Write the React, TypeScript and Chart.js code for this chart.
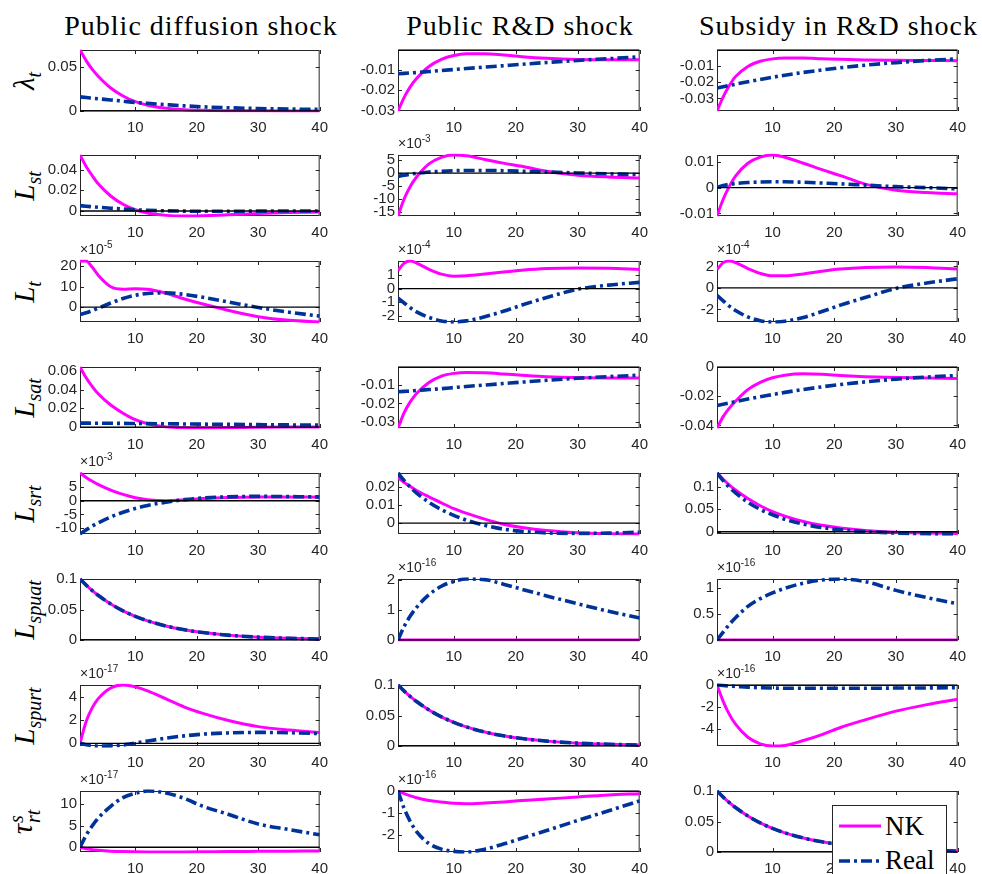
import React, { useEffect, useRef } from "react";
import { Chart, registerables } from "chart.js";
Chart.register(...registerables);

// ---------- data ----------
const X = [1, 2, 3, 4, 6, 8, 10, 12, 15, 18, 21, 25, 30, 35, 40];
const xTicks = [10, 20, 30, 40];
const shockTitles = ["Public diffusion shock", "Public R&D shock", "Subsidy in R&D shock"];
const seriesNames = ["NK", "Real"];

// shared spillover decay path (identical for NK and Real)
const spillover = [0.1, 0.09, 0.081, 0.0729, 0.059, 0.0478, 0.0387, 0.0314, 0.0229, 0.0167, 0.0122, 0.008, 0.0047, 0.0028, 0.0016];
const flatZero = [0, 0, 0, 0, 0, 0, 0, 0, 0, 0, 0, 0, 0, 0, 0];

// Public diffusion shock
const dif_lambda_nk = [0.069, 0.057, 0.047, 0.039, 0.026, 0.017, 0.0105, 0.0065, 0.003, 0.0015, 0.0008, 0.0004, 0.0002, 0.0001, 0.0001];
const dif_lambda_real = [0.016, 0.0152, 0.0145, 0.0138, 0.0125, 0.0111, 0.0097, 0.0087, 0.0072, 0.0058, 0.0047, 0.0037, 0.0028, 0.0022, 0.0018];
const dif_Lst_nk = [0.054, 0.043, 0.034, 0.026, 0.0145, 0.0065, 0.0012, -0.002, -0.0042, -0.0048, -0.0045, -0.0037, -0.0025, -0.0015, -0.0009];
const dif_Lst_real = [0.0052, 0.0046, 0.0041, 0.0036, 0.0027, 0.0019, 0.0012, 0.0007, 0.0002, -0.0001, -0.0002, -0.0002, -0.0001, 0, 0];
const dif_Lt_nk = [22.5, 22.6, 19.5, 15.5, 10, 8.8, 9, 8.7, 6.8, 4, 1.5, -1.5, -4.7, -6.5, -7.3];
const dif_Lt_real = [-3.6, -2.8, -1.7, -0.5, 2, 4.2, 5.8, 6.7, 7, 6.2, 4.8, 2.6, -0.2, -2.5, -4.4];
const dif_Lsat_nk = [0.064, 0.0525, 0.043, 0.0352, 0.0235, 0.0148, 0.0078, 0.0035, 0.0002, -0.0008, -0.001, -0.0007, -0.0003, 0, 0.0001];
const dif_Lsat_real = [0.0042, 0.0042, 0.0041, 0.0041, 0.004, 0.0039, 0.0038, 0.0037, 0.0035, 0.0033, 0.0031, 0.0029, 0.0026, 0.0023, 0.0021];
const dif_Lsrt_nk = [10.1, 8.5, 7.1, 5.9, 3.9, 2.3, 1.1, 0.4, 0, 0.3, 0.8, 1.2, 1.4, 1.4, 1.3];
const dif_Lsrt_real = [-12.1, -10.6, -9.2, -8, -5.9, -4.2, -2.8, -1.7, -0.5, 0.4, 1, 1.4, 1.6, 1.5, 1.4];
const dif_Lspurt_nk = [0, 1.9, 3.1, 3.9, 4.8, 5.06, 4.9, 4.55, 3.85, 3.15, 2.6, 2.0, 1.45, 1.15, 0.95];
const dif_Lspurt_real = [0, -0.12, -0.19, -0.23, -0.22, -0.14, 0.02, 0.2, 0.45, 0.65, 0.8, 0.9, 0.95, 0.92, 0.85];
const dif_tau_nk = [0, -0.35, -0.55, -0.7, -0.9, -1.0, -1.05, -1.08, -1.1, -1.08, -1.05, -1.0, -0.95, -0.9, -0.85];
const dif_tau_real = [0, 2.8, 5, 6.8, 9.5, 11.5, 12.5, 13.05, 12.6, 11.3, 9.5, 7.7, 5.4, 4.1, 2.9];

// Public R&D shock
const rd_lambda_nk = [-0.0303, -0.0235, -0.0182, -0.0142, -0.0082, -0.0046, -0.0027, -0.0019, -0.0019, -0.0025, -0.0033, -0.0041, -0.0047, -0.0049, -0.0048];
const rd_lambda_real = [-0.0118, -0.0116, -0.0114, -0.0112, -0.0107, -0.0102, -0.0097, -0.0092, -0.0085, -0.0078, -0.0071, -0.0062, -0.0052, -0.0043, -0.0034];
const rd_Lst_nk = [-16.4, -9.8, -5, -1.5, 3.5, 6.0, 6.9, 6.6, 5.2, 3.8, 2.6, 0.7, -0.8, -1.5, -1.9];
const rd_Lst_real = [-1.3, -0.8, -0.4, -0.1, 0.4, 0.7, 0.9, 1.0, 1.0, 0.9, 0.7, 0.4, 0.05, -0.3, -0.6];
const rd_Lt_nk = [1.3, 1.85, 2.0, 1.85, 1.4, 1.05, 0.9, 0.92, 1.05, 1.2, 1.33, 1.45, 1.5, 1.47, 1.38];
const rd_Lt_real = [-0.7, -1.05, -1.4, -1.7, -2.1, -2.35, -2.43, -2.35, -2.05, -1.65, -1.2, -0.65, -0.05, 0.25, 0.45];
const rd_Lsat_nk = [-0.0335, -0.025, -0.019, -0.0145, -0.0085, -0.005, -0.0035, -0.003, -0.0032, -0.0038, -0.0045, -0.0053, -0.0058, -0.006, -0.006];
const rd_Lsat_real = [-0.0136, -0.0134, -0.0132, -0.0129, -0.0124, -0.0119, -0.0113, -0.0107, -0.0099, -0.0091, -0.0083, -0.0073, -0.0062, -0.0053, -0.0045];
const rd_Lsrt_nk = [0.025, 0.0225, 0.0202, 0.018, 0.0145, 0.0112, 0.008, 0.0055, 0.0022, -0.0006, -0.0024, -0.0041, -0.0053, -0.0058, -0.006];
const rd_Lsrt_real = [0.0277, 0.0235, 0.0198, 0.0166, 0.0115, 0.0075, 0.0043, 0.0017, -0.0012, -0.0033, -0.0045, -0.0054, -0.0057, -0.0055, -0.005];
const rd_Lspuat_real = [0, 0.45, 0.8, 1.08, 1.5, 1.78, 1.94, 2.02, 2.0, 1.85, 1.68, 1.46, 1.2, 0.95, 0.73];
const rd_tau_nk = [0, -0.12, -0.22, -0.31, -0.43, -0.5, -0.56, -0.58, -0.55, -0.5, -0.43, -0.37, -0.27, -0.18, -0.12];
const rd_tau_real = [0, -0.8, -1.4, -1.85, -2.4, -2.65, -2.75, -2.78, -2.65, -2.42, -2.15, -1.8, -1.34, -0.9, -0.45];

// Subsidy in R&D shock
const sub_lambda_nk = [-0.0378, -0.029, -0.022, -0.0165, -0.0102, -0.007, -0.0055, -0.005, -0.005, -0.0054, -0.0058, -0.0062, -0.0064, -0.0065, -0.0066];
const sub_lambda_real = [-0.0236, -0.0228, -0.022, -0.0212, -0.0197, -0.0183, -0.0169, -0.0156, -0.0139, -0.0124, -0.011, -0.0094, -0.0078, -0.0065, -0.0055];
const sub_Lst_nk = [-0.011, -0.0045, 0.0005, 0.0045, 0.0095, 0.0119, 0.0127, 0.0118, 0.0095, 0.007, 0.0047, 0.0014, -0.001, -0.0019, -0.0024];
const sub_Lst_real = [0.0002, 0.0008, 0.0013, 0.0016, 0.002, 0.0022, 0.0023, 0.0023, 0.0021, 0.0018, 0.0015, 0.001, 0.0004, 0, -0.0005];
const sub_Lt_nk = [1.7, 2.35, 2.5, 2.35, 1.8, 1.35, 1.12, 1.12, 1.3, 1.55, 1.75, 1.9, 1.95, 1.9, 1.75];
const sub_Lt_real = [-0.7, -1.2, -1.7, -2.1, -2.7, -3.05, -3.17, -3.1, -2.75, -2.2, -1.6, -0.9, -0.05, 0.45, 0.85];
const sub_Lsat_nk = [-0.0418, -0.034, -0.0282, -0.0235, -0.0155, -0.0105, -0.0074, -0.0056, -0.0047, -0.005, -0.0058, -0.0066, -0.0072, -0.0075, -0.0078];
const sub_Lsat_real = [-0.0264, -0.0255, -0.0246, -0.0237, -0.022, -0.0204, -0.0189, -0.0174, -0.0154, -0.0136, -0.012, -0.0102, -0.0083, -0.0069, -0.0058];
const sub_Lsrt_nk = [0.131, 0.117, 0.104, 0.093, 0.074, 0.058, 0.045, 0.035, 0.023, 0.0145, 0.0085, 0.003, -0.0012, -0.003, -0.0038];
const sub_Lsrt_real = [0.131, 0.114, 0.099, 0.087, 0.066, 0.05, 0.038, 0.028, 0.017, 0.0095, 0.0045, 0.0005, -0.0028, -0.0045, -0.005];
const sub_Lspuat_real = [0, 0.15, 0.3, 0.43, 0.65, 0.8, 0.91, 1.0, 1.1, 1.16, 1.18, 1.13, 0.96, 0.82, 0.7];
const sub_Lspurt_nk = [0, -1.5, -2.7, -3.6, -4.8, -5.4, -5.6, -5.55, -5.1, -4.55, -3.9, -3.2, -2.4, -1.8, -1.3];
const sub_Lspurt_real = [0, -0.05, -0.1, -0.13, -0.2, -0.25, -0.28, -0.3, -0.3, -0.3, -0.3, -0.3, -0.28, -0.27, -0.25];

// y tick labels per panel (rows x columns)
const yTicksDif = [[0, 0.05], [0, 0.02, 0.04], [0, 10, 20], [0, 0.02, 0.04, 0.06], [-10, -5, 0, 5], [0, 0.05, 0.1], [0, 2, 4], [0, 5, 10]];
const yTicksRd = [[-0.03, -0.02, -0.01], [-15, -10, -5, 0, 5], [-2, -1, 0, 1], [-0.03, -0.02, -0.01], [0, 0.01, 0.02], [0, 1, 2], [0, 0.05, 0.1], [-2, -1, 0]];
const yTicksSub = [[-0.03, -0.02, -0.01], [-0.01, 0, 0.01], [-2, 0, 2], [-0.04, -0.02, 0], [0, 0.05, 0.1], [0, 0.5, 1], [-4, -2, 0], [0, 0.05, 0.1]];
// axis exponent labels ("" = none)
const expDif = ["", "", "-5", "", "-3", "", "-17", "-17"];
const expRd = ["", "-3", "-4", "", "", "-16", "", "-16"];
const expSub = ["", "", "-4", "", "", "-16", "-16", ""];

const nkDif = [dif_lambda_nk, dif_Lst_nk, dif_Lt_nk, dif_Lsat_nk, dif_Lsrt_nk, spillover, dif_Lspurt_nk, dif_tau_nk];
const realDif = [dif_lambda_real, dif_Lst_real, dif_Lt_real, dif_Lsat_real, dif_Lsrt_real, spillover, dif_Lspurt_real, dif_tau_real];
const nkRd = [rd_lambda_nk, rd_Lst_nk, rd_Lt_nk, rd_Lsat_nk, rd_Lsrt_nk, flatZero, spillover, rd_tau_nk];
const realRd = [rd_lambda_real, rd_Lst_real, rd_Lt_real, rd_Lsat_real, rd_Lsrt_real, rd_Lspuat_real, spillover, rd_tau_real];
const nkSub = [sub_lambda_nk, sub_Lst_nk, sub_Lt_nk, sub_Lsat_nk, sub_Lsrt_nk, flatZero, sub_Lspurt_nk, spillover];
const realSub = [sub_lambda_real, sub_Lst_real, sub_Lt_real, sub_Lsat_real, sub_Lsrt_real, sub_Lspuat_real, sub_Lspurt_real, spillover];

// ---------- layout ----------
const COL_LEFT = [80, 398, 717];
const COL_RIGHT = [322, 642, 960];
const ROW_TOP = [50, 155, 261, 367, 473, 579, 685, 791];
const PLOT_H = 61;
const PAD_L = 60, PAD_R = 14, PAD_T = 12, PAD_B = 28;

const NK_COLOR = "#ff00ff";
const REAL_COLOR = "#003399";
const AXIS_COLOR = "#262626";
const REAL_DASH = [11, 4, 3, 4];
const TICK_FONT = { family: "'Liberation Sans', Arial, sans-serif", size: 15 };

const fmt = (v: number) => String(Math.round(v * 1e6) / 1e6);

const boxPlugin = {
  id: "matlabBox",
  beforeDatasetsDraw(chart: any) {
    const { ctx, chartArea, scales } = chart;
    const { left, top, right, bottom } = chartArea;
    ctx.save();
    ctx.strokeStyle = AXIS_COLOR;
    ctx.lineWidth = 1;
    ctx.strokeRect(left + 0.5, top + 0.5, right - left - 1, bottom - top - 1);
    ctx.beginPath();
    const tl = 4;
    scales.x.ticks.forEach((t: any) => {
      const px = Math.round(scales.x.getPixelForValue(t.value)) + 0.5;
      ctx.moveTo(px, bottom); ctx.lineTo(px, bottom - tl);
      ctx.moveTo(px, top); ctx.lineTo(px, top + tl);
    });
    scales.y.ticks.forEach((t: any) => {
      const py = Math.round(scales.y.getPixelForValue(t.value)) + 0.5;
      ctx.moveTo(left, py); ctx.lineTo(left + tl, py);
      ctx.moveTo(right, py); ctx.lineTo(right - tl, py);
    });
    ctx.stroke();
    ctx.restore();
  },
};

function Panel({ nk, real, yTicks, left, top, width }: any) {
  const ref = useRef<HTMLCanvasElement | null>(null);
  const cw = width + PAD_L + PAD_R;
  const ch = PLOT_H + PAD_T + PAD_B;
  useEffect(() => {
    const chart = new Chart(ref.current as HTMLCanvasElement, {
      type: "line",
      data: {
        datasets: [
          {
            label: "zero",
            data: [{ x: 1, y: 0 }, { x: 40, y: 0 }],
            borderColor: "#000000",
            borderWidth: 1.3,
            pointRadius: 0,
          },
          {
            label: seriesNames[1],
            data: X.map((x, i) => ({ x, y: real[i] })),
            borderColor: REAL_COLOR,
            borderWidth: 3.6,
            borderDash: REAL_DASH,
            pointRadius: 0,
            cubicInterpolationMode: "monotone",
          },
          {
            label: seriesNames[0],
            data: X.map((x, i) => ({ x, y: nk[i] })),
            borderColor: NK_COLOR,
            borderWidth: 3,
            pointRadius: 0,
            cubicInterpolationMode: "monotone",
          },
        ],
      } as any,
      options: {
        animation: false,
        responsive: false,
        devicePixelRatio: 1,
        events: [],
        layout: { padding: { left: 0, right: PAD_R, top: PAD_T, bottom: 0 } },
        plugins: { legend: { display: false }, tooltip: { enabled: false } },
        scales: {
          x: {
            type: "linear",
            min: 1,
            max: 40,
            afterBuildTicks: (s: any) => { s.ticks = xTicks.map((v) => ({ value: v })); },
            afterFit: (s: any) => { s.height = PAD_B; },
            grid: { display: false, drawTicks: false },
            border: { display: false },
            ticks: { font: TICK_FONT, color: AXIS_COLOR, padding: 8, maxRotation: 0, autoSkip: false },
          },
          y: {
            type: "linear",
            bounds: "data",
            grace: 0,
            afterBuildTicks: (s: any) => { s.ticks = yTicks.map((v: number) => ({ value: v })); },
            afterFit: (s: any) => { s.width = PAD_L; },
            grid: { display: false, drawTicks: false },
            border: { display: false },
            ticks: { font: TICK_FONT, color: AXIS_COLOR, padding: 3, autoSkip: false, callback: (v: any) => fmt(Number(v)) },
          },
        },
      } as any,
      plugins: [boxPlugin],
    });
    return () => chart.destroy();
  }, []);
  return (
    <canvas
      ref={ref}
      width={cw}
      height={ch}
      style={{ position: "absolute", left: left - PAD_L, top: top - PAD_T, width: cw, height: ch }}
    />
  );
}

const SERIF = "'Liberation Serif', 'Times New Roman', serif";

function RowLabel({ cy, children }: any) {
  return (
    <div
      style={{
        position: "absolute",
        left: 25,
        top: cy,
        transform: "translate(-50%, -50%) rotate(-90deg)",
        whiteSpace: "nowrap",
        fontFamily: SERIF,
        fontStyle: "italic",
        fontSize: 29,
        lineHeight: "30px",
        color: "#000",
      }}
    >
      {children}
    </div>
  );
}

const Sub = ({ t }: any) => (
  <span style={{ fontSize: 20, fontStyle: "italic", position: "relative", top: 7 }}>{t}</span>
);

const rowLabels = [
  <><span>λ</span><Sub t="t" /></>,
  <><span>L</span><Sub t="st" /></>,
  <><span>L</span><Sub t="t" /></>,
  <><span>L</span><Sub t="sat" /></>,
  <><span>L</span><Sub t="srt" /></>,
  <><span>L</span><Sub t="spuat" /></>,
  <><span>L</span><Sub t="spurt" /></>,
  <>
    <span>τ</span>
    <span style={{ display: "inline-flex", flexDirection: "column", fontSize: 20, fontStyle: "italic", lineHeight: "17px", verticalAlign: "middle", marginLeft: 1 }}>
      <span>s</span>
      <span>rt</span>
    </span>
  </>,
];

function ExpLabel({ left, top, exp }: any) {
  return (
    <div
      style={{
        position: "absolute",
        left,
        top: top - 20,
        fontFamily: "'Liberation Sans', Arial, sans-serif",
        fontSize: 14,
        color: AXIS_COLOR,
        whiteSpace: "nowrap",
        lineHeight: "16px",
      }}
    >
      ×10<span style={{ fontSize: 10, position: "relative", top: -6 }}>{exp}</span>
    </div>
  );
}

export default function App() {
  const cols = [
    { nk: nkDif, real: realDif, ticks: yTicksDif, exps: expDif },
    { nk: nkRd, real: realRd, ticks: yTicksRd, exps: expRd },
    { nk: nkSub, real: realSub, ticks: yTicksSub, exps: expSub },
  ];
  return (
    <div style={{ position: "absolute", left: 0, top: 0, width: 982, height: 874, overflow: "hidden", background: "#fff" }}>
      {shockTitles.map((t, c) => (
        <div
          key={"t" + c}
          style={{
            position: "absolute",
            left: COL_LEFT[c] - 60,
            width: COL_RIGHT[c] - COL_LEFT[c] + 120,
            top: 12,
            textAlign: "center",
            fontFamily: SERIF,
            fontSize: 28,
            letterSpacing: 1,
            lineHeight: "28px",
            whiteSpace: "nowrap",
            color: "#000",
          }}
        >
          {t}
        </div>
      ))}
      {rowLabels.map((lab, r) => (
        <RowLabel key={"r" + r} cy={ROW_TOP[r] + PLOT_H / 2}>{lab}</RowLabel>
      ))}
      {cols.map((col, c) =>
        ROW_TOP.map((top, r) => (
          <Panel
            key={`p${r}-${c}`}
            nk={col.nk[r]}
            real={col.real[r]}
            yTicks={col.ticks[r]}
            left={COL_LEFT[c]}
            top={top}
            width={COL_RIGHT[c] - COL_LEFT[c]}
          />
        ))
      )}
      {cols.map((col, c) =>
        ROW_TOP.map((top, r) =>
          col.exps[r] ? <ExpLabel key={`e${r}-${c}`} left={COL_LEFT[c]} top={top} exp={col.exps[r]} /> : null
        )
      )}
      <div style={{ position: "absolute", left: 832, top: 805, width: 113, height: 90, border: "1px solid #262626", background: "#fff" }}>
        <svg width={113} height={90} style={{ position: "absolute", left: 0, top: 0 }}>
          <line x1={6} y1={20} x2={48} y2={20} stroke={NK_COLOR} strokeWidth={3} />
          <line x1={6} y1={55} x2={48} y2={55} stroke={REAL_COLOR} strokeWidth={3.6} strokeDasharray={REAL_DASH.join(" ")} />
          <text x={52} y={29} fontFamily={SERIF} fontSize={27} fill="#000">{seriesNames[0]}</text>
          <text x={52} y={63} fontFamily={SERIF} fontSize={27} fill="#000">{seriesNames[1]}</text>
        </svg>
      </div>
    </div>
  );
}
